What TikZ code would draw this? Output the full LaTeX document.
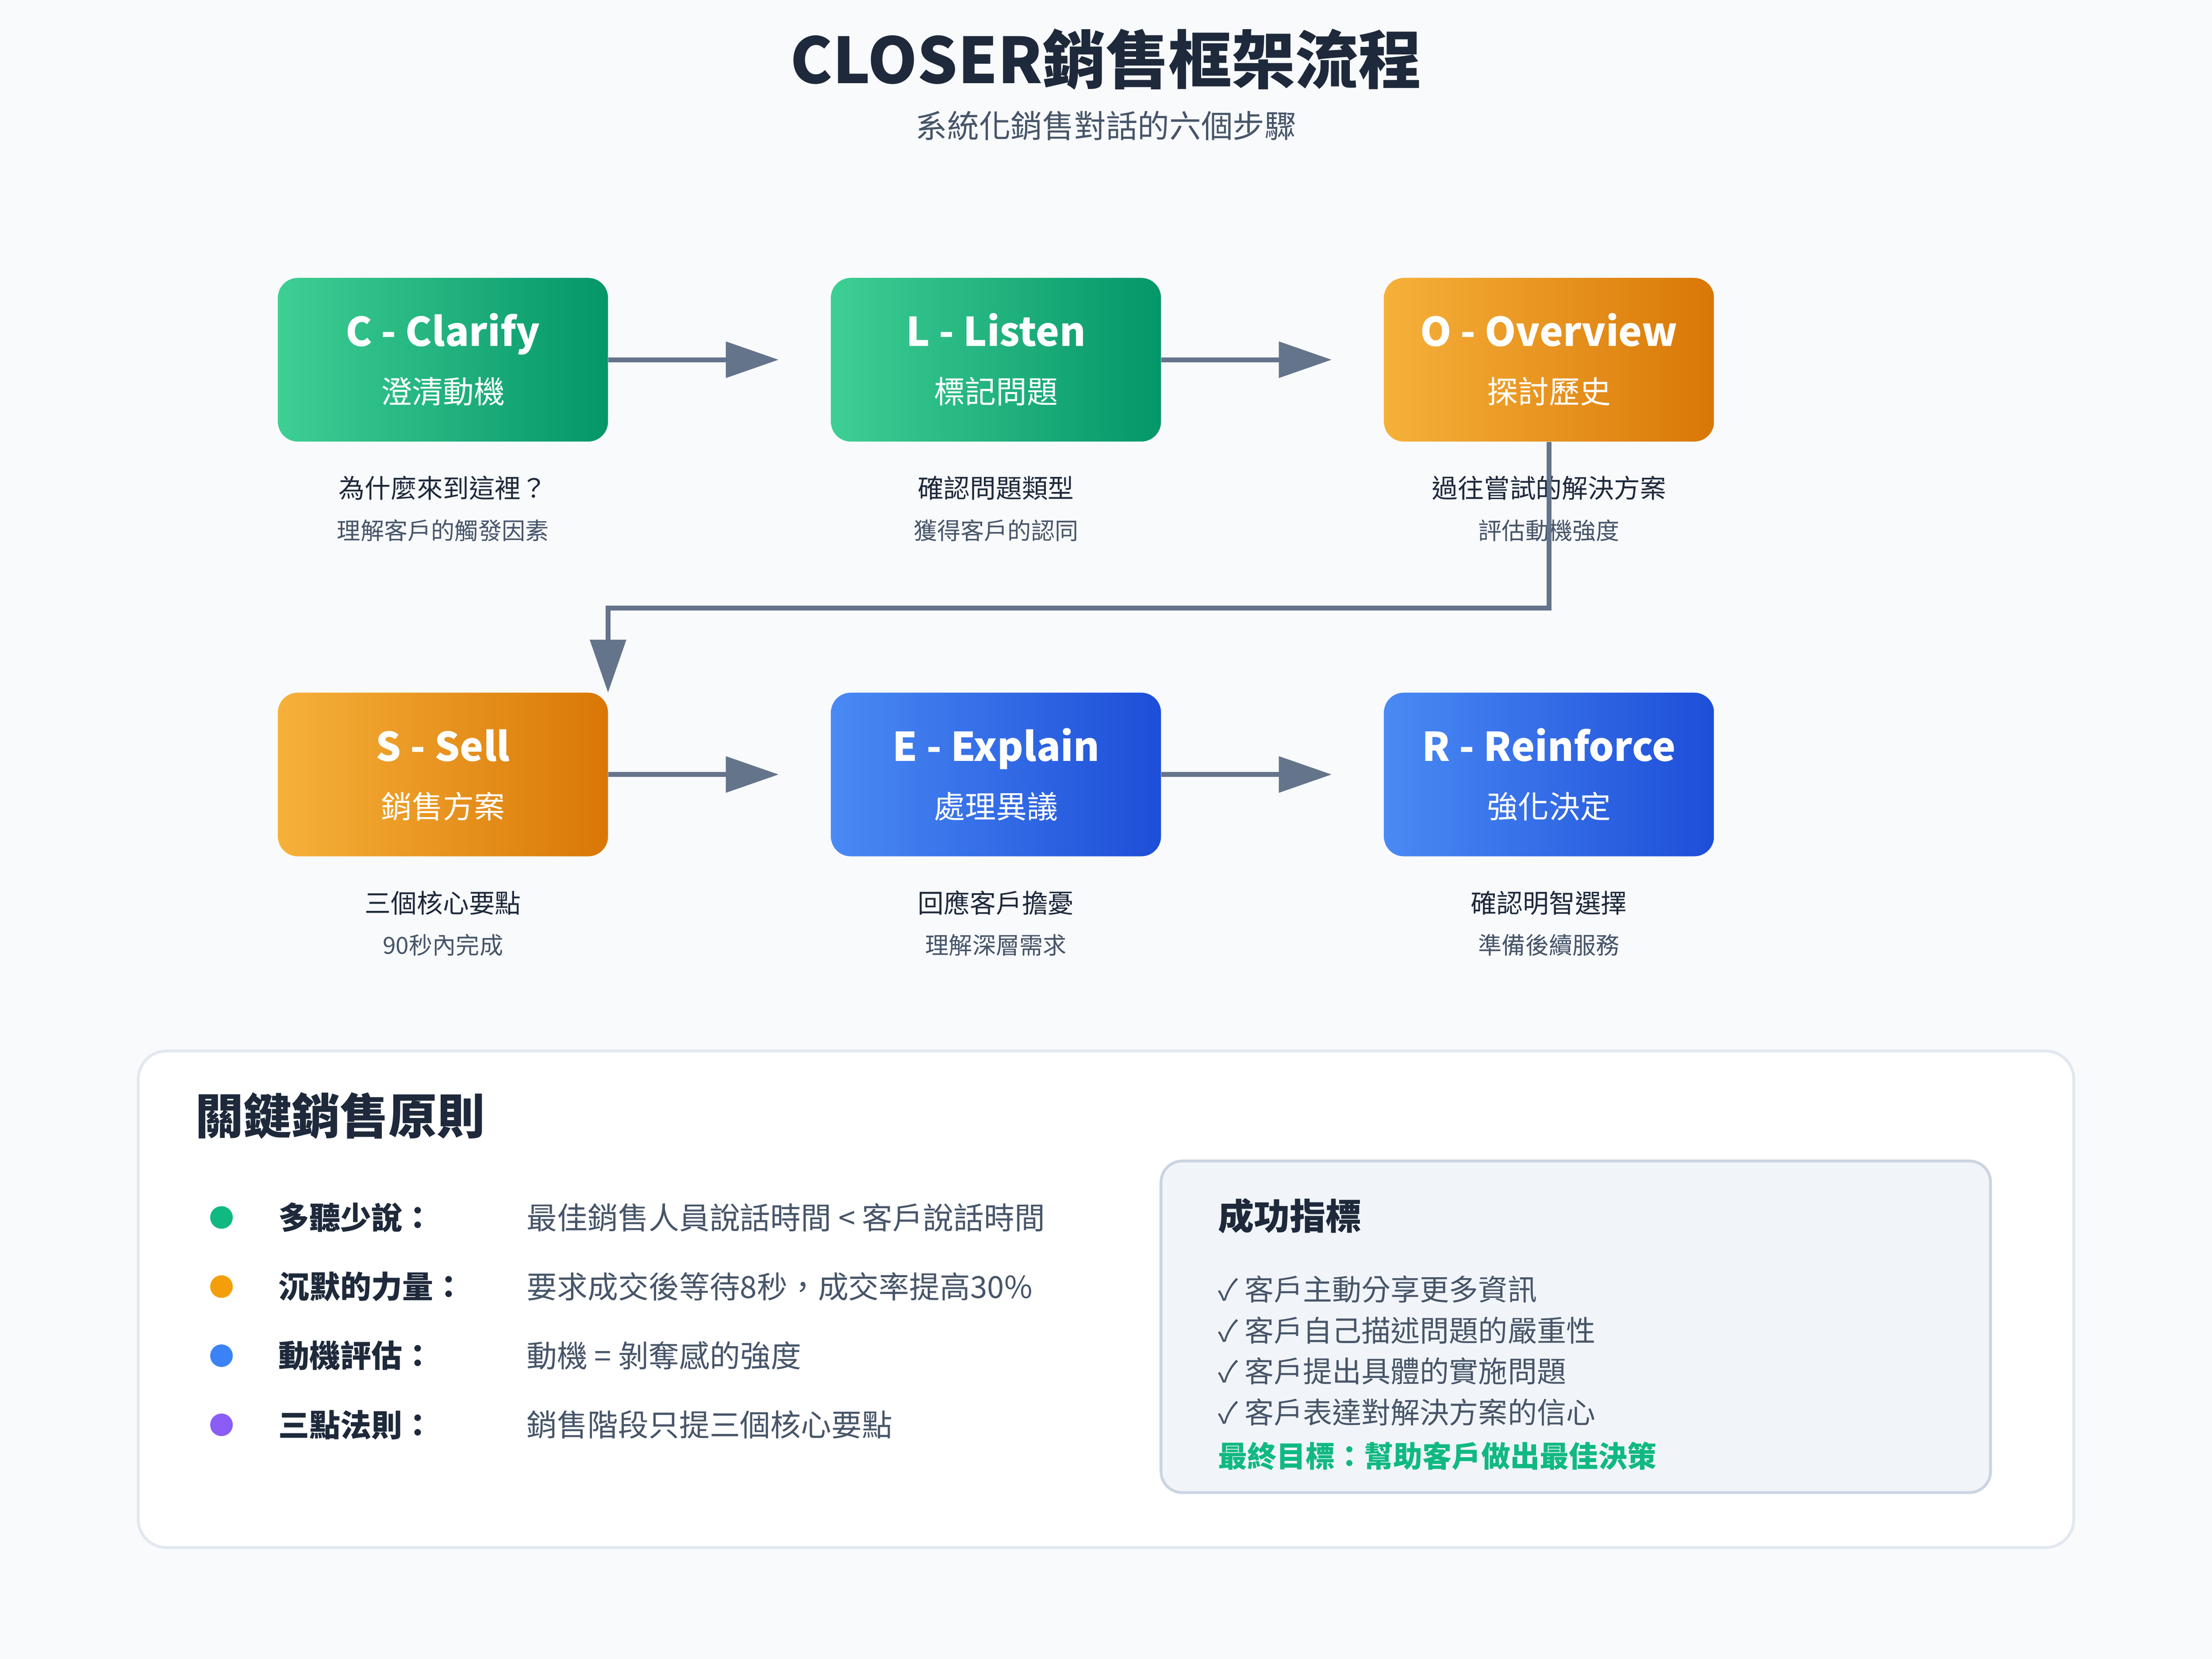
\documentclass[tikz,border=0pt]{standalone}
\usepackage{fontspec}
\setmainfont{Noto Sans CJK TC}
\usetikzlibrary{arrows.meta,shadings}
\definecolor{bg}{HTML}{F8FAFC}
\definecolor{dark}{HTML}{1E293B}
\definecolor{gry}{HTML}{475569}
\definecolor{arr}{HTML}{64748B}
\definecolor{g1}{HTML}{3ECF94}\definecolor{g2}{HTML}{059669}
\definecolor{o1}{HTML}{F6B13A}\definecolor{o2}{HTML}{D97706}
\definecolor{b1}{HTML}{4A8AF4}\definecolor{b2}{HTML}{1D4ED8}
\definecolor{cg}{HTML}{10B981}\definecolor{co}{HTML}{F59E0B}
\definecolor{cb}{HTML}{3B82F6}\definecolor{cp}{HTML}{8B5CF6}
\definecolor{pf}{HTML}{F1F5F9}\definecolor{pb}{HTML}{CBD5E1}\definecolor{ob}{HTML}{E2E8F0}
\begin{document}
\begin{tikzpicture}[x=0.02cm,y=-0.02cm,
 stepb/.style={minimum width=4.68cm,minimum height=2.32cm,rounded corners=0.28cm,inner sep=0pt},
 gbox/.style={stepb,left color=g1,right color=g2},
 obox/.style={stepb,left color=o1,right color=o2},
 bbox/.style={stepb,shading=axis,shading angle=120,left color=b1,right color=b2},
 ar/.style={draw=arr,line width=0.07cm,-{Triangle[length=0.75cm,width=0.5cm]}},
 d1/.style={text=dark,font=\fontsize{10.5}{12}\selectfont},
 d2/.style={text=gry,font=\fontsize{9.5}{11}\selectfont},
 bl/.style={anchor=west,inner sep=0pt,text=dark,font=\fontsize{12.5}{14}\selectfont\bfseries},
 ds/.style={anchor=west,inner sep=0pt,text=gry,font=\fontsize{12.3}{14}\selectfont},
 ck/.style={anchor=west,inner sep=0pt,text=gry,font=\fontsize{11.8}{14}\selectfont}]
\fill[bg] (0,0) rectangle (1568,1176);
\node[text=dark,font=\fontsize{25.5}{30}\selectfont\bfseries] (t) at (784,42) {CLOSER銷售框架流程};
\node[text=gry,font=\fontsize{12.8}{15}\selectfont] (st) at (784,89) {系統化銷售對話的六個步驟};
\newcommand{\stepbox}[5]{\node[#1] (#2) at (#3) {};
 \node[anchor=base,inner sep=0pt,text=white,font=\fontsize{16}{20}\selectfont\bfseries] at ([yshift=0.19cm]#2.center) {#4};
 \node[anchor=base,inner sep=0pt,text=white,font=\fontsize{12.5}{15}\selectfont] at ([yshift=-0.62cm]#2.center) {#5};}
\stepbox{gbox}{c}{314,255}{C - Clarify}{澄清動機}
\stepbox{gbox}{l}{706,255}{L - Listen}{標記問題}
\stepbox{obox}{o}{1098,255}{O - Overview}{探討歷史}
\stepbox{obox}{s}{314,549}{S - Sell}{銷售方案}
\stepbox{bbox}{e}{706,549}{E - Explain}{處理異議}
\stepbox{bbox}{r}{1098,549}{R - Reinforce}{強化決定}
\coordinate (ca) at (552,255);\coordinate (la) at (944,255);
\coordinate (ea) at (552,549);\coordinate (ra) at (944,549);
\draw[ar] (c.east) -- (ca);
\draw[ar] (l.east) -- (la);
\draw[ar] (s.east) -- (ea);
\draw[ar] (e.east) -- (ra);
\node[d1] (c1) at (314,346) {為什麼來到這裡？};
\node[d2] (c2) at (314,376) {理解客戶的觸發因素};
\node[d1] (l1) at (706,346) {確認問題類型};
\node[d2] (l2) at (706,376) {獲得客戶的認同};
\node[d1] (o1n) at (1098,346) {過往嘗試的解決方案};
\node[d2] (o2n) at (1098,376) {評估動機強度};
\node[d1] (s1) at (314,640) {三個核心要點};
\node[d2] (s2) at (314,670) {90秒內完成};
\node[d1] (e1) at (706,640) {回應客戶擔憂};
\node[d2] (e2) at (706,670) {理解深層需求};
\node[d1] (r1) at (1098,640) {確認明智選擇};
\node[d2] (r2) at (1098,670) {準備後續服務};
\draw[ar] (o.south) -- (1098,431) -- (431,431) -- (431,491);
\draw[draw=ob,fill=white,line width=0.04cm,rounded corners=0.4cm] (98,745) rectangle (1470,1097);
\node[anchor=west,inner sep=0pt,text=dark,font=\fontsize{19.5}{22}\selectfont\bfseries] (h) at (138,791) {關鍵銷售原則};
\foreach \y/\c/\a/\b in {863/cg/多聽少說：/最佳銷售人員說話時間 < 客戶說話時間,912/co/沉默的力量：/要求成交後等待8秒，成交率提高30\%,961/cb/動機評估：/動機 = 剝奪感的強度,1010/cp/三點法則：/銷售階段只提三個核心要點}{
 \fill[\c] (157,\y) circle (0.16cm);
 \node[bl] at (197,\y) {\a};
 \node[ds] at (373,\y) {\b};}
\draw[draw=pb,fill=pf,line width=0.04cm,rounded corners=0.3cm] (823,823) rectangle (1411,1058);
\node[anchor=west,inner sep=0pt,text=dark,font=\fontsize{14.5}{17}\selectfont\bfseries] (sh) at (863,862) {成功指標};
\node[ck] at (863,914) {✓ 客戶主動分享更多資訊};
\node[ck] at (863,943) {✓ 客戶自己描述問題的嚴重性};
\node[ck] at (863,972) {✓ 客戶提出具體的實施問題};
\node[ck] at (863,1001) {✓ 客戶表達對解決方案的信心};
\node[anchor=west,inner sep=0pt,text=cg,font=\fontsize{11.8}{14}\selectfont\bfseries] at (863,1032) {最終目標：幫助客戶做出最佳決策};
\end{tikzpicture}
\end{document}
